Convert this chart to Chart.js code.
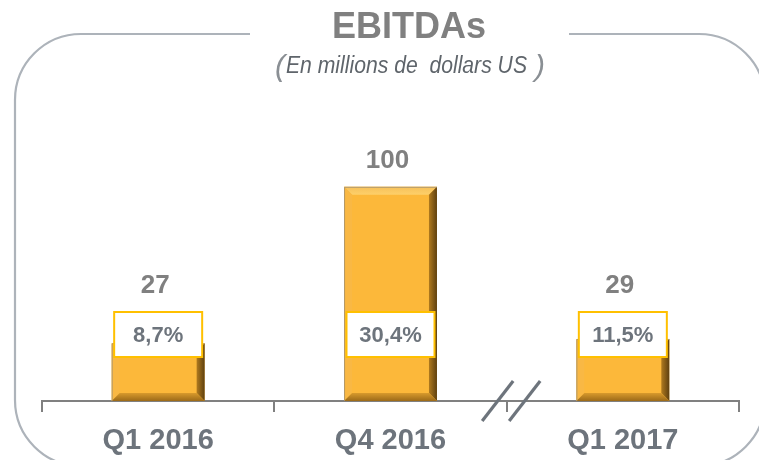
<!DOCTYPE html>
<html><head><meta charset="utf-8">
<script src="https://cdn.jsdelivr.net/npm/chart.js@4.4.0/dist/chart.umd.min.js"></script>
<style>html,body{margin:0;padding:0;background:#fff}#wrap{width:759px;height:460px;position:relative}</style>
</head><body><div id="wrap"><canvas id="c" width="759" height="460"></canvas></div>
<script>
const categories = ["Q1 2016", "Q4 2016", "Q1 2017"];
const ebitda = [27, 100, 29];
const margins = ["8,7%", "30,4%", "11,5%"];
const valueLabels = ["27", "100", "29"];
const titleText = "EBITDAs";
const subtitleText = "En millions de  dollars US";

const FONT = "'Liberation Sans', Arial, sans-serif";

const decor = {
  id: 'decor',
  beforeDraw(chart) {
    const ctx = chart.ctx;
    ctx.save();
    ctx.fillStyle = '#fff';
    ctx.fillRect(0, 0, chart.width, chart.height);
    // rounded frame with gap for the title
    const x0 = 15, y0 = 34, x1 = 765, y1 = 466, r = 66;
    ctx.strokeStyle = '#adb3ba';
    ctx.lineWidth = 2.2;
    ctx.beginPath();
    ctx.moveTo(250, y0);
    ctx.lineTo(x0 + r, y0);
    ctx.arcTo(x0, y0, x0, y0 + r, r);
    ctx.lineTo(x0, y1 - r);
    ctx.arcTo(x0, y1, x0 + r, y1, r);
    ctx.lineTo(x1 - r, y1);
    ctx.arcTo(x1, y1, x1, y1 - r, r);
    ctx.lineTo(x1, y0 + r);
    ctx.arcTo(x1, y0, x1 - r, y0, r);
    ctx.lineTo(569, y0);
    ctx.stroke();
    // title
    ctx.fillStyle = '#808080';
    ctx.font = "bold 36px " + FONT;
    ctx.textAlign = 'center';
    ctx.textBaseline = 'alphabetic';
    ctx.fillText(titleText, 409, 38);
    // subtitle (slightly condensed italic)
    ctx.font = "italic 23px " + FONT;
    ctx.fillStyle = '#5f656b';
    const w = ctx.measureText(subtitleText).width;
    const sx = 241 / w;
    ctx.save();
    ctx.translate(406.5, 73);
    ctx.scale(sx, 1);
    ctx.fillText(subtitleText, 0, 0);
    ctx.restore();
    ctx.font = "italic 30px " + FONT;
    ctx.fillStyle = '#8a8f94';
    ctx.fillText("(", 280, 76);
    ctx.fillText(")", 540, 76);
    ctx.restore();
  },
  afterDatasetsDraw(chart) {
    const ctx = chart.ctx;
    const meta = chart.getDatasetMeta(0);
    const xs = chart.scales.x;
    ctx.save();
    meta.data.forEach((bar, i) => {
      const p = bar.getProps(['x', 'y', 'base', 'width'], true);
      const l = p.x - p.width / 2, rt = p.x + p.width / 2, t = p.y, b = p.base;
      const s = 8;
      // top face
      let g = ctx.createLinearGradient(0, t, 0, t + s);
      g.addColorStop(0, '#f7c15a'); g.addColorStop(1, '#fdd06a');
      ctx.fillStyle = g;
      ctx.beginPath(); ctx.moveTo(l, t); ctx.lineTo(rt, t); ctx.lineTo(rt - s, t + s); ctx.lineTo(l + s, t + s); ctx.closePath(); ctx.fill();
      // left face
      ctx.fillStyle = '#f9b844';
      ctx.beginPath(); ctx.moveTo(l, t); ctx.lineTo(l + s, t + s); ctx.lineTo(l + s, b - s); ctx.lineTo(l, b); ctx.closePath(); ctx.fill();
      // right face
      g = ctx.createLinearGradient(rt - s, 0, rt, 0);
      g.addColorStop(0, '#b07a1e'); g.addColorStop(1, '#5e4010');
      ctx.fillStyle = g;
      ctx.beginPath(); ctx.moveTo(rt, t); ctx.lineTo(rt, b); ctx.lineTo(rt - s, b - s); ctx.lineTo(rt - s, t + s); ctx.closePath(); ctx.fill();
      // bottom face
      g = ctx.createLinearGradient(0, b - s, 0, b);
      g.addColorStop(0, '#d89a2c'); g.addColorStop(1, '#9c6a18');
      ctx.fillStyle = g;
      ctx.beginPath(); ctx.moveTo(l, b); ctx.lineTo(rt, b); ctx.lineTo(rt - s, b - s); ctx.lineTo(l + s, b - s); ctx.closePath(); ctx.fill();
      // thin outline on left/top
      ctx.strokeStyle = 'rgba(150,140,120,0.7)'; ctx.lineWidth = 1;
      ctx.beginPath(); ctx.moveTo(l + 0.5, b); ctx.lineTo(l + 0.5, t + 0.5); ctx.lineTo(rt, t + 0.5); ctx.stroke();

      // margin box
      const bw = 88, bh = 45, by = 312;
      ctx.fillStyle = '#fff';
      ctx.fillRect(p.x - bw / 2, by, bw, bh);
      ctx.strokeStyle = '#ffc000'; ctx.lineWidth = 2;
      ctx.strokeRect(p.x - bw / 2, by, bw, bh);
      ctx.fillStyle = '#6d747c';
      ctx.font = "bold 22px " + FONT;
      ctx.textAlign = 'center'; ctx.textBaseline = 'middle';
      ctx.fillText(margins[i], p.x, by + bh / 2 + 1);

      // value label
      const top = Math.min(t, by);
      ctx.fillStyle = '#808080';
      ctx.font = "bold 26px " + FONT;
      ctx.fillText(valueLabels[i], p.x - 3, top - 26);
    });
    // axis break marks between 2nd and 3rd category
    const bx = (xs.getPixelForValue(1) + xs.getPixelForValue(2)) / 2;
    const by0 = chart.chartArea.bottom;
    ctx.strokeStyle = '#6d747c'; ctx.lineWidth = 3.2; ctx.lineCap = 'butt';
    [-9, 18].forEach(dx => {
      ctx.beginPath();
      ctx.moveTo(bx + dx - 15.5, by0 + 20);
      ctx.lineTo(bx + dx + 15.5, by0 - 20);
      ctx.stroke();
    });
    ctx.restore();
  }
};

new Chart(document.getElementById('c'), {
  type: 'bar',
  data: {
    labels: categories,
    datasets: [{
      data: ebitda,
      backgroundColor: '#fcb83a',
      borderWidth: 0,
      barPercentage: 0.4,
      categoryPercentage: 1
    }]
  },
  options: {
    responsive: false,
    animation: false,
    devicePixelRatio: 1,
    layout: { padding: { left: 42, right: 20, top: 144, bottom: 0 } },
    plugins: { legend: { display: false }, tooltip: { enabled: false }, title: { display: false } },
    scales: {
      y: { display: false, min: 0, max: 120 },
      x: {
        offset: true,
        afterFit(scale) { scale.height = 59; },
        grid: { offset: true, drawOnChartArea: false, drawTicks: true, tickLength: 11, color: '#808080', lineWidth: 2 },
        border: { display: true, color: '#808080', width: 2 },
        ticks: { color: '#6d747c', font: { family: FONT, size: 29, weight: 'bold' }, padding: 12 }
      }
    }
  },
  plugins: [decor]
});
</script>
</body></html>
